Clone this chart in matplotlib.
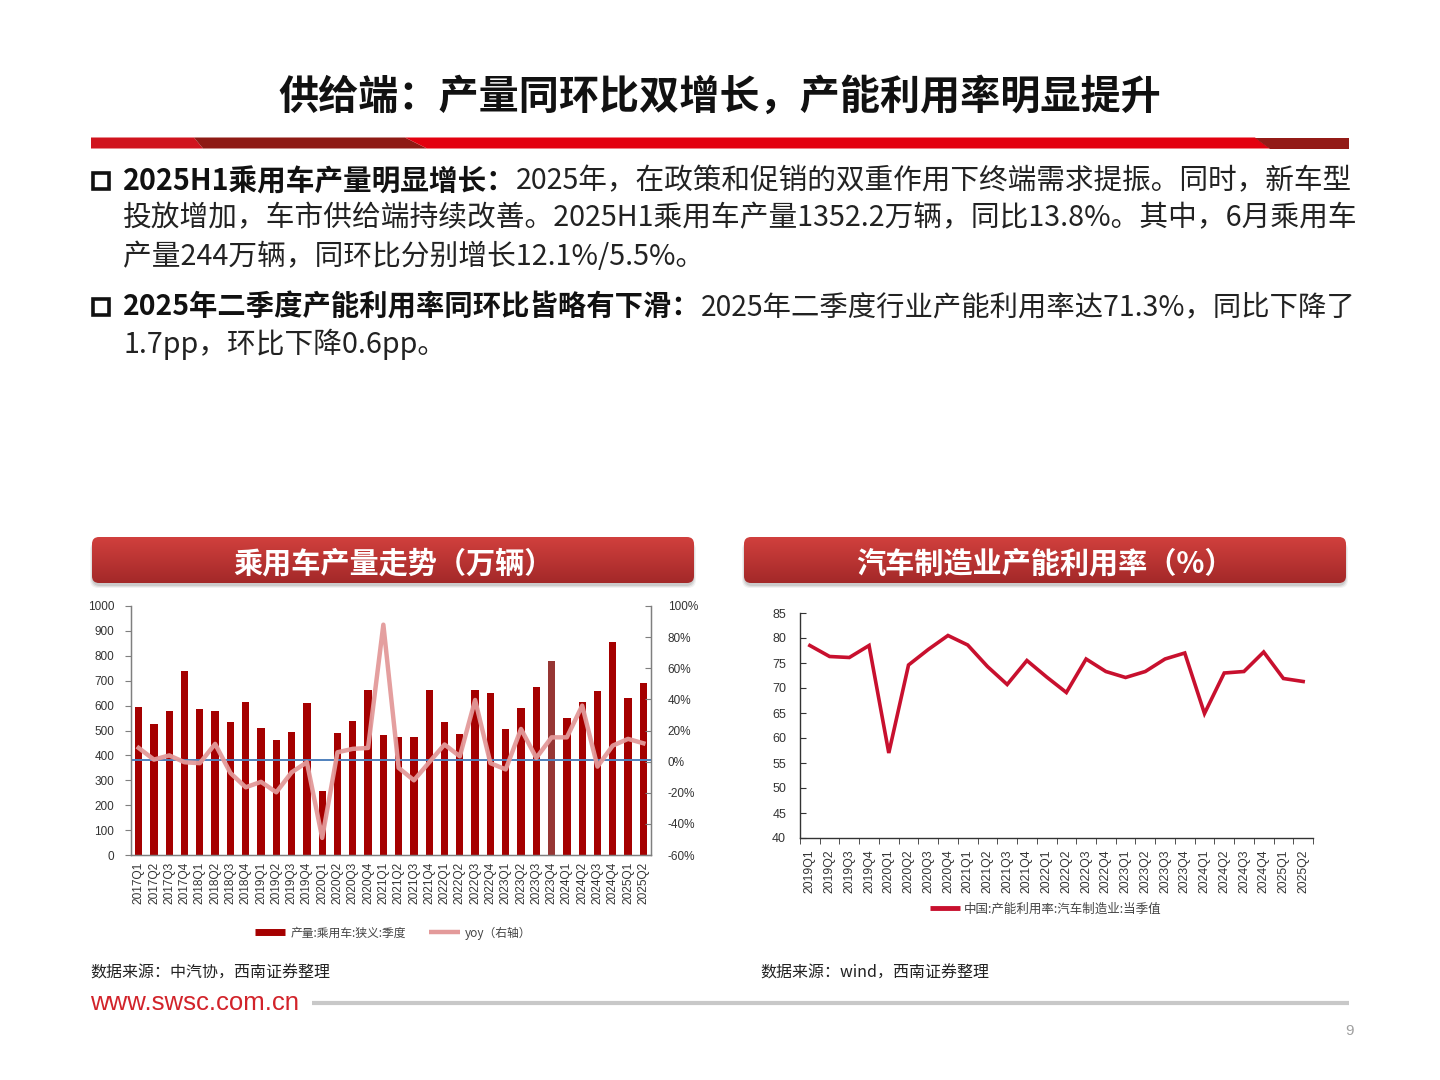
import matplotlib
matplotlib.use('Agg')
import matplotlib.pyplot as plt
import numpy as np
from matplotlib.patches import Polygon, FancyBboxPatch, Rectangle
from matplotlib.lines import Line2D

# ---------------- data ----------------
quarters_prod = ["2017Q1", "2017Q2", "2017Q3", "2017Q4", "2018Q1", "2018Q2", "2018Q3", "2018Q4",
                 "2019Q1", "2019Q2", "2019Q3", "2019Q4", "2020Q1", "2020Q2", "2020Q3", "2020Q4",
                 "2021Q1", "2021Q2", "2021Q3", "2021Q4", "2022Q1", "2022Q2", "2022Q3", "2022Q4",
                 "2023Q1", "2023Q2", "2023Q3", "2023Q4", "2024Q1", "2024Q2", "2024Q3", "2024Q4",
                 "2025Q1", "2025Q2"]
production = [595, 525, 578, 738, 588, 578, 534, 613,
              509, 460, 495, 609, 256, 489, 537, 662,
              482, 474, 474, 663, 535, 485, 663, 649,
              507, 590, 676, 778, 549, 616, 657, 857,
              631, 691]
yoy_pct = [8.8, 1.3, 4.0, -0.4, -1.0, 11.4, -7.3, -16.5,
           -13.0, -19.7, -6.9, -0.4, -49.0, 6.0, 8.2, 8.8,
           88.0, -4.0, -12.0, -0.4, 11.0, 3.4, 39.6, -1.0,
           -5.0, 21.0, 2.4, 15.6, 15.6, 36.0, -3.2, 10.3,
           14.6, 11.8]

quarters_util = ["2019Q1", "2019Q2", "2019Q3", "2019Q4", "2020Q1", "2020Q2", "2020Q3", "2020Q4",
                 "2021Q1", "2021Q2", "2021Q3", "2021Q4", "2022Q1", "2022Q2", "2022Q3", "2022Q4",
                 "2023Q1", "2023Q2", "2023Q3", "2023Q4", "2024Q1", "2024Q2", "2024Q3", "2024Q4",
                 "2025Q1", "2025Q2"]
utilization = [78.5, 76.3, 76.1, 78.5, 57.0, 74.6, 77.7, 80.5,
               78.6, 74.3, 70.7, 75.5, 72.2, 69.1, 75.8, 73.3,
               72.1, 73.3, 75.8, 77.0, 64.9, 73.0, 73.3, 77.2,
               71.9, 71.3]

prod_ticks = [0, 100, 200, 300, 400, 500, 600, 700, 800, 900, 1000]
yoy_ticks = [-60, -40, -20, 0, 20, 40, 60, 80, 100]
util_ticks = [40, 45, 50, 55, 60, 65, 70, 75, 80, 85]

title = "供给端：产量同环比双增长，产能利用率明显提升"
body_lines = [
    ("2025H1乘用车产量明显增长：", "2025年，在政策和促销的双重作用下终端需求提振。同时，新车型"),
    ("", "投放增加，车市供给端持续改善。2025H1乘用车产量1352.2万辆，同比13.8%。其中，6月乘用车"),
    ("", "产量244万辆，同环比分别增长12.1%/5.5%。"),
    ("2025年二季度产能利用率同环比皆略有下滑：", "2025年二季度行业产能利用率达71.3%，同比下降了"),
    ("", "1.7pp，环比下降0.6pp。"),
]
panel_titles = ["乘用车产量走势（万辆）", "汽车制造业产能利用率（%）"]
legend_prod = ["产量:乘用车:狭义:季度", "yoy（右轴）"]
legend_util = ["中国:产能利用率:汽车制造业:当季值"]
sources = ["数据来源：中汽协，西南证券整理", "数据来源：wind，西南证券整理"]

# ---------------- setup ----------------
W, H = 1440, 1080
plt.rcParams['font.family'] = ['Noto Sans CJK SC', 'DejaVu Sans']
fig = plt.figure(figsize=(W / 100, H / 100), dpi=100)
fig.patch.set_facecolor('white')
renderer = fig.canvas.get_renderer()


def rect(x0, y0, x1, y1):
    return [x0 / W, 1 - y1 / H, (x1 - x0) / W, (y1 - y0) / H]


bg = fig.add_axes([0, 0, 1, 1], zorder=0)
bg.set_xlim(0, W)
bg.set_ylim(H, 0)
bg.axis('off')

# title
t = bg.text(720, 97, title, ha='center', va='center', fontsize=28, fontweight='bold', color='#111111')
wt = t.get_window_extent(renderer).width
t.set_fontsize(28 * 882 / wt)

# red bar under title
bar_y0, bar_y1 = 137.5, 148.5
bg.add_patch(Polygon([(91, bar_y0), (194, bar_y0), (203, bar_y1), (91, bar_y1)], closed=True,
                     facecolor='#D0141E', edgecolor='none'))
bg.add_patch(Polygon([(194, bar_y0), (405, bar_y0), (427, bar_y1), (203, bar_y1)], closed=True,
                     facecolor='#8E1A14', edgecolor='none'))
bg.add_patch(Polygon([(405, bar_y0), (1255, bar_y0), (1270, bar_y1), (427, bar_y1)], closed=True,
                     facecolor='#E3000F', edgecolor='none'))
bg.add_patch(Polygon([(1255, bar_y0), (1349, bar_y0), (1349, bar_y1), (1270, bar_y1)], closed=True,
                     facecolor='#931B17', edgecolor='none'))

# body text
line_y = [181, 218, 257, 307, 344]
probe = bg.text(0, 0, body_lines[1][1], fontsize=20)
pw = probe.get_window_extent(renderer).width
probe.remove()
fs_body = 20 * 1232 / pw
for (bold, reg), y in zip(body_lines, line_y):
    if bold:
        fs = fs_body
        pb = bg.text(0, 0, bold, fontsize=fs, fontweight='bold')
        pr = bg.text(0, 0, reg, fontsize=fs)
        tot = pb.get_window_extent(renderer).width + pr.get_window_extent(renderer).width
        pb.remove()
        pr.remove()
        if tot > 1232:
            fs = fs * 1232 / tot
        bg.add_patch(Rectangle((93, y - 8.5), 16, 16, facecolor='none', edgecolor='#111111', lw=2.6))
        tb = bg.text(123, y, bold, ha='left', va='center', fontsize=fs, fontweight='bold',
                     color='#111111')
        bg.annotate(reg, xy=(1, 0.5), xycoords=tb, ha='left', va='center', fontsize=fs,
                    color='#222222')
    else:
        bg.text(123, y, reg, ha='left', va='center', fontsize=fs_body, color='#222222')

# panel headers


def header(x0, x1, y0, y1, label):
    for k, a in enumerate([0.05, 0.07, 0.09]):
        off = 3 - k
        sh = FancyBboxPatch((x0 - off + 1, y0 + 2 + off), (x1 - x0) + 2 * off - 2, (y1 - y0),
                            boxstyle="round,pad=0,rounding_size=8", facecolor='black',
                            edgecolor='none', alpha=a)
        bg.add_patch(sh)
    p = FancyBboxPatch((x0, y0), x1 - x0, y1 - y0, boxstyle="round,pad=0,rounding_size=7",
                       facecolor='none', edgecolor='none')
    bg.add_patch(p)
    top = np.array([0.82, 0.25, 0.24])
    bot = np.array([0.64, 0.16, 0.16])
    g = np.linspace(0, 1, 64)[:, None]
    img = (top[None, None, :] * (1 - g[:, :, None]) + bot[None, None, :] * g[:, :, None])
    img = np.repeat(img, 2, axis=1)
    im = bg.imshow(img, extent=(x0, x1, y1, y0), aspect='auto', zorder=1)
    im.set_clip_path(p)
    bg.text((x0 + x1) / 2, (y0 + y1) / 2 + 3, label, ha='center', va='center', fontsize=21,
            fontweight='bold', color='white', zorder=3)


header(92, 694, 537, 583, panel_titles[0])
header(744, 1346, 537, 583, panel_titles[1])
bg.set_xlim(0, W)
bg.set_ylim(H, 0)

# footer
bg.text(90, 973, sources[0], ha='left', va='center', fontsize=11.5, color='#222222')
bg.text(760, 973, sources[1], ha='left', va='center', fontsize=11.5, color='#222222')
bg.text(90, 1003, "www.swsc.com.cn", ha='left', va='center', fontsize=18.5, color='#D2232A',
        family=['Liberation Sans', 'DejaVu Sans'])
bg.plot([312, 1349], [1003, 1003], color='#C8C8C8', lw=3, solid_capstyle='butt')
bg.text(1349, 1031, "9", ha='center', va='center', fontsize=11, color='#A0A0A0',
        family=['Liberation Sans', 'DejaVu Sans'])

tick_font = ['Liberation Sans', 'DejaVu Sans']
axis_col = '#7F7F7F'
lab_col = '#333333'

# ---------------- left chart ----------------
ax1 = fig.add_axes(rect(131, 606, 651, 855), zorder=2)
ax1.patch.set_alpha(0)
x = np.arange(len(quarters_prod))
bar_colors = ['#A50000'] * len(x)
bar_colors[27] = '#963634'
bars = ax1.bar(x, production, width=0.48, color=bar_colors, zorder=2)
ax1.set_xlim(-0.5, len(x) - 0.5)
ax1.set_ylim(0, 1000)
ax1.set_yticks(prod_ticks)
ax1.set_yticklabels([str(v) for v in prod_ticks], family=tick_font, fontsize=8.5, color=lab_col)
ax1.set_xticks(x)
ax1.set_xticklabels(quarters_prod, rotation=90, family=tick_font, fontsize=8.6, color=lab_col)
ax1.tick_params(axis='x', length=0, pad=5)
ax1.tick_params(axis='y', length=4, direction='out', color=axis_col, pad=8)
for s in ['top']:
    ax1.spines[s].set_visible(False)
for s in ['left', 'bottom', 'right']:
    ax1.spines[s].set_color(axis_col)
    ax1.spines[s].set_linewidth(1.0)

ax2 = ax1.twinx()
ax2.set_zorder(3)
ax2.patch.set_alpha(0)
ax2.set_ylim(-60, 100)
ax2.axhline(1.2, color='#4F81BD', lw=1.4, zorder=2)
line_yoy, = ax2.plot(x, yoy_pct, color='#E39A9A', lw=3.2, alpha=0.95, zorder=3,
                     solid_joinstyle='round')
ax2.set_yticks(yoy_ticks)
ax2.set_yticklabels([f"{v}%" for v in yoy_ticks], family=tick_font, fontsize=8.5, color=lab_col)
ax2.tick_params(axis='y', length=4, direction='in', color=axis_col, pad=12)
ax2.spines['top'].set_visible(False)
for s in ['left', 'bottom', 'right']:
    ax2.spines[s].set_color(axis_col)

h1 = Line2D([], [], color='#A50000', lw=5, solid_capstyle='butt')
h2 = Line2D([], [], color='#E39A9A', lw=3.2, solid_capstyle='butt')
fig.legend([h1, h2], legend_prod, loc='center', bbox_to_anchor=(393 / W, 1 - 933 / H), ncol=2,
           frameon=False, fontsize=8.5, handlelength=2.6, handletextpad=0.4, columnspacing=2.0,
           labelcolor='#444444')

# ---------------- right chart ----------------
ax3 = fig.add_axes(rect(800, 613, 1313, 838), zorder=2)
ax3.patch.set_alpha(0)
xu = np.arange(len(quarters_util))
line_u, = ax3.plot(xu, utilization, color='#C8102E', lw=2.6, solid_joinstyle='miter')
ax3.set_xlim(-0.5, len(xu) - 0.5)
ax3.set_ylim(40, 85)
ax3.set_yticks(util_ticks)
ax3.set_yticklabels([str(v) for v in util_ticks], family=tick_font, fontsize=9, color=lab_col)
ax3.set_xticks(xu)
ax3.set_xticklabels(quarters_util, rotation=90, family=tick_font, fontsize=8.8, color=lab_col)
ax3.set_xticks(np.arange(-0.5, len(xu)), minor=True)
ax3.tick_params(axis='x', which='major', length=0, pad=8)
ax3.tick_params(axis='x', which='minor', length=4, direction='out', color='#333333')
ax3.tick_params(axis='y', length=4, direction='in', color='#333333', pad=10)
for s in ['top', 'right']:
    ax3.spines[s].set_visible(False)
for s in ['left', 'bottom']:
    ax3.spines[s].set_color('#333333')
    ax3.spines[s].set_linewidth(1.0)

h3 = Line2D([], [], color='#C8102E', lw=3.5, solid_capstyle='butt')
fig.legend([h3], legend_util, loc='center', bbox_to_anchor=(1046 / W, 1 - 909 / H), ncol=1,
           frameon=False, fontsize=9, handlelength=2.4, handletextpad=0.3,
           labelcolor='#444444')

fig.savefig('out.png', dpi=100, facecolor='white')
